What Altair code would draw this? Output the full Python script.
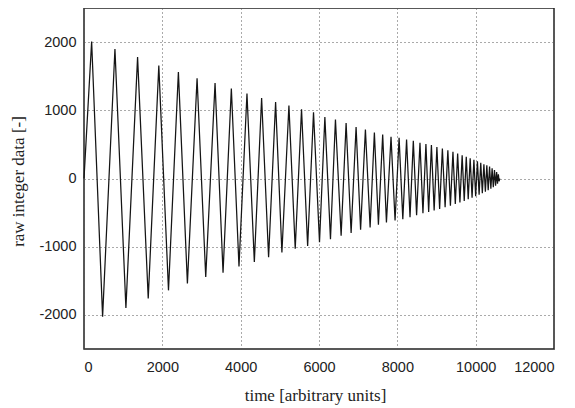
import altair as alt
import pandas as pd

# extrema of the signal (time, raw value)
times = [0, 195, 475, 790, 1070, 1368, 1640, 1910, 2157, 2410,
         2640, 2887, 3108, 3346, 3550, 3762, 3957, 4161, 4349, 4535,
         4713, 4892, 5053, 5232, 5393, 5554, 5710, 5860, 6013, 6150,
         6293, 6420, 6565, 6692, 6820, 6947, 7062, 7185, 7305, 7414,
         7517, 7626, 7722, 7839, 7942, 8045, 8140, 8236, 8324, 8408,
         8492, 8578, 8654, 8730, 8800, 8870, 8940, 9010, 9080, 9150,
         9220, 9290, 9355, 9420, 9480, 9540, 9598, 9655, 9708, 9760,
         9810, 9860, 9908, 9955, 10000, 10045, 10088, 10130, 10170, 10210,
         10248, 10285, 10320, 10355, 10388, 10420, 10450, 10480, 10508, 10535,
         10558, 10580, 10598, 10615]
values = [0, 2010, -2025, 1900, -1900, 1780, -1760, 1655, -1640, 1560,
          -1540, 1470, -1445, 1400, -1380, 1320, -1290, 1245, -1225, 1180,
          -1155, 1120, -1085, 1070, -1030, 1015, -990, 970, -935, 900,
          -890, 864, -839, 815, -800, 756, -752, 718, -718, 674,
          -679, 645, -645, 610, -616, 596, -596, 572, -566, 552,
          -537, 523, -508, 504, -490, 489, -470, 462, -445, 440,
          -420, 415, -398, 390, -372, 365, -350, 342, -328, 320,
          -305, 298, -282, 275, -260, 252, -238, 230, -215, 208,
          -193, 195, -172, 175, -150, 150, -128, 125, -104, 95,
          -75, 60, -40, 0]

x_ticks = [0, 2000, 4000, 6000, 8000, 10000, 12000]
y_ticks = [-2000, -1000, 0, 1000, 2000]

df = pd.DataFrame({"i": list(range(len(times))), "t": times, "v": values})

label_font = "Liberation Sans"
title_font = "Liberation Serif"

chart = alt.Chart(df).mark_line(stroke="#151515", strokeWidth=1.25).encode(
    x=alt.X("t:Q",
            scale=alt.Scale(domain=[0, 12000], nice=False, zero=False),
            axis=alt.Axis(values=x_ticks, title="time [arbitrary units]",
                          labelExpr="'' + datum.value",
                          labelPadding=11, titleX=231, titleY=51,
                          titleBaseline="alphabetic", titleAlign="center")),
    y=alt.Y("v:Q",
            scale=alt.Scale(domain=[-2500, 2500], nice=False, zero=False),
            axis=alt.Axis(values=y_ticks, title="raw integer data [-]",
                          labelExpr="'' + datum.value",
                          labelPadding=8, titleX=-66, titleY=173,
                          titleBaseline="middle", titleAlign="center",
                          titleAngle=270)),
    order="i:Q",
).properties(
    width=470, height=341,
    background="white",
    autosize=alt.AutoSizeParams(type="none"),
    padding={"left": 76, "top": 0, "right": 10, "bottom": 58},
).configure_view(
    stroke="#222222", strokeWidth=1.5
).configure_axis(
    domain=False, ticks=False, tickSize=0,
    grid=True, gridColor="#555555", gridDash=[1, 3], gridWidth=1,
    labelFont=label_font, labelFontSize=14.5, labelColor="#222222",
    titleFont=title_font, titleFontSize=17, titleFontWeight="normal",
    titleColor="#222222",
)

chart.save("out.html", embed_options={"renderer": "svg", "actions": False})
